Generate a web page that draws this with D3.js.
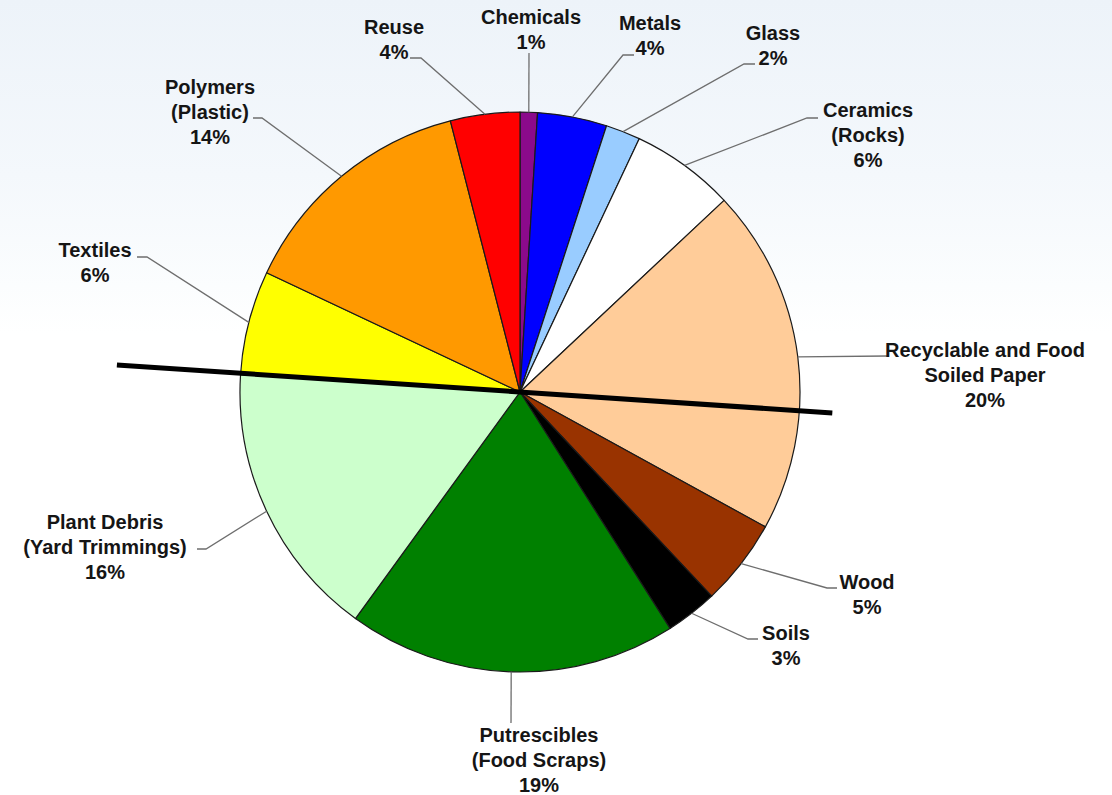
<!DOCTYPE html>
<html>
<head>
<meta charset="utf-8">
<script src="https://cdn.jsdelivr.net/npm/d3@7"></script>
<style>
  html, body { margin: 0; padding: 0; background: #fff; }
  svg { display: block; }
  .label { font-family: "Liberation Sans", Arial, sans-serif; font-weight: bold; font-size: 20px; fill: #151515; }
</style>
</head>
<body>
<div id="root"></div>
<script>

// waste categories, clockwise from 12 o'clock
const categories = ["Chemicals", "Metals", "Glass", "Ceramics", "Recyclable Paper", "Wood",
  "Soils", "Putrescibles", "Plant Debris", "Textiles", "Polymers", "Reuse"]

const label_lines = [
  ["Chemicals"], ["Metals"], ["Glass"], ["Ceramics", "(Rocks)"],
  ["Recyclable and Food", "Soiled Paper"], ["Wood"], ["Soils"],
  ["Putrescibles", "(Food Scraps)"], ["Plant Debris", "(Yard Trimmings)"],
  ["Textiles"], ["Polymers", "(Plastic)"], ["Reuse"]
]

const percents = [1, 4, 2, 6, 20, 5, 3, 19, 16, 6, 14, 4]

const slice_colors = ["#8b0a8b", "#0000ff", "#99ccff", "#ffffff", "#ffcc99", "#993300",
  "#000000", "#008000", "#ccffcc", "#ffff00", "#ff9900", "#ff0000"]

// label placement: text centre (x, first line y) and leader elbow / end
const label_layout = {
  "Chemicals":        {x: 531, y: 17,  elbow: [529, 53],  end: [529, 53]},
  "Metals":           {x: 650, y: 23,  elbow: [623, 55],  end: [634, 55]},
  "Glass":            {x: 773, y: 33,  elbow: [744, 64],  end: [755, 64]},
  "Ceramics":         {x: 868, y: 110, elbow: [807, 118], end: [818, 118]},
  "Recyclable Paper": {x: 985, y: 350, elbow: [887, 356], end: [887, 356]},
  "Wood":             {x: 867, y: 582, elbow: [827, 588], end: [837, 588]},
  "Soils":            {x: 786, y: 633, elbow: [748, 639], end: [758, 639]},
  "Putrescibles":     {x: 539, y: 735, elbow: [511, 723], end: [511, 723]},
  "Plant Debris":     {x: 105, y: 522, elbow: [206, 549], end: [197, 549]},
  "Textiles":         {x: 95,  y: 250, elbow: [147, 257], end: [137, 257]},
  "Polymers":         {x: 210, y: 87,  elbow: [262, 118], end: [253, 118]},
  "Reuse":            {x: 394, y: 27,  elbow: [421, 58],  end: [410, 58]}
}

const pie_chart = {
  setup(base_node){
    this.width = 1112
    this.height = 795
    this.cx = 520
    this.cy = 392
    this.radius = 280

    this.data = categories.map((c, i) => ({name: c, value: percents[i], color: slice_colors[i], lines: label_lines[i]}))

    this.pie_gen = d3.pie().sort(null).value(d => d.value)
    this.arc_gen = d3.arc().innerRadius(0).outerRadius(this.radius)
    this.edge_arc = d3.arc().innerRadius(this.radius).outerRadius(this.radius)

    this.svg = base_node.append("svg")
      .attr("width", this.width)
      .attr("height", this.height)

    const grad = this.svg.append("defs").append("linearGradient")
      .attr("id", "bg_grad").attr("x1", 0).attr("y1", 0).attr("x2", 0).attr("y2", 1)
    grad.append("stop").attr("offset", "0%").attr("stop-color", "#edf3f9")
    grad.append("stop").attr("offset", "22%").attr("stop-color", "#f4f8fc")
    grad.append("stop").attr("offset", "36%").attr("stop-color", "#fbfdfe")
    grad.append("stop").attr("offset", "42%").attr("stop-color", "#ffffff")

    this.svg.append("rect")
      .attr("width", this.width).attr("height", this.height)
      .attr("fill", "url(#bg_grad)")

    this.pie_group = this.svg.append("g")
      .attr("transform", "translate(" + this.cx + "," + this.cy + ")")
    this.label_group = this.svg.append("g")
  },

  render(){
    const arcs = this.pie_gen(this.data)

    this.pie_group.selectAll("path.slice").data(arcs).enter()
      .append("path")
      .attr("class", "slice")
      .attr("d", this.arc_gen)
      .attr("fill", d => d.data.color)
      .attr("stroke", "#1a1a1a")
      .attr("stroke-width", 1.2)
      .attr("stroke-linejoin", "round")

    // the thick divider line drawn across the pie
    const tilt = 3.84 * Math.PI / 180
    this.pie_group.append("line")
      .attr("x1", -404 * Math.cos(tilt)).attr("y1", -404 * Math.sin(tilt))
      .attr("x2", 313 * Math.cos(tilt)).attr("y2", 313 * Math.sin(tilt))
      .attr("stroke", "#000")
      .attr("stroke-width", 5)

    // leader lines
    this.label_group.selectAll("polyline").data(arcs).enter()
      .append("polyline")
      .attr("points", d => {
        const p = this.edge_arc.centroid(d)
        const lay = label_layout[d.data.name]
        return [[p[0] + this.cx, p[1] + this.cy], lay.elbow, lay.end].map(q => q.join(",")).join(" ")
      })
      .attr("fill", "none")
      .attr("stroke", "#6e6e6e")
      .attr("stroke-width", 1.3)

    const labels = this.label_group.selectAll("text").data(arcs).enter()
      .append("text")
      .attr("class", "label")
      .attr("text-anchor", "middle")

    labels.each(function(d){
      const lay = label_layout[d.data.name]
      const lines = d.data.lines.concat([d.data.value + "%"])
      d3.select(this).selectAll("tspan").data(lines).enter()
        .append("tspan")
        .attr("x", lay.x)
        .attr("y", (l, i) => lay.y + i * 25)
        .attr("dy", "0.35em")
        .text(l => l)
    })
  }
}

const container = d3.select("#root")
pie_chart.setup(container)
pie_chart.render()

</script>
</body>
</html>
